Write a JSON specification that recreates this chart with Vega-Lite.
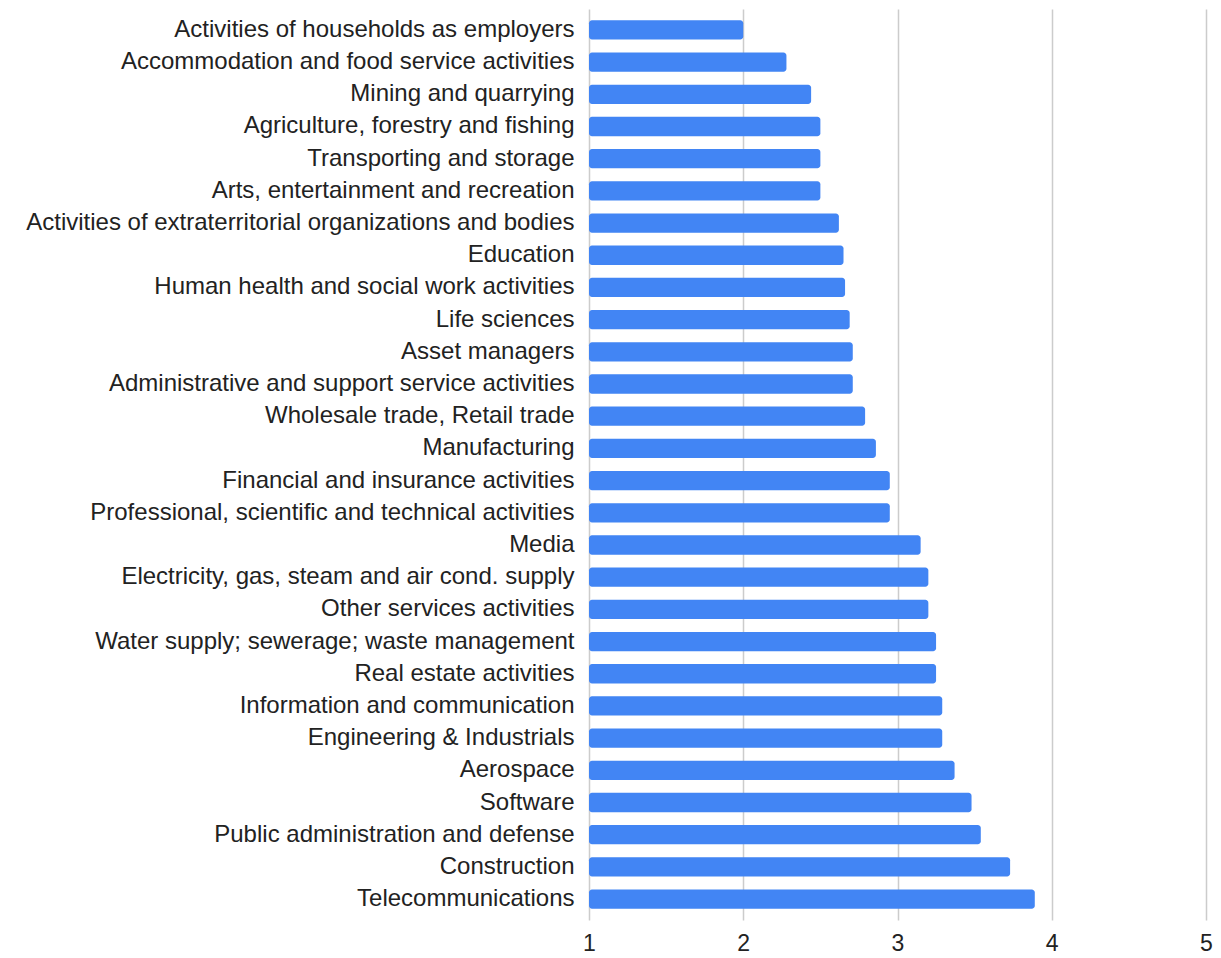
{
  "$schema": "https://vega.github.io/schema/vega-lite/v6.json",
  "width": 617,
  "height": 911,
  "autosize": {"type": "none"},
  "padding": {"left": 589, "top": 9, "right": 15, "bottom": 38},
  "background": "white",
  "config": {"view": {"stroke": null}, "font": "Liberation Sans"},
  "data": {"values": [
    {"sector": "Activities of households as employers", "value": 2.0},
    {"sector": "Accommodation and food service activities", "value": 2.28},
    {"sector": "Mining and quarrying", "value": 2.44},
    {"sector": "Agriculture, forestry and fishing", "value": 2.5},
    {"sector": "Transporting and storage", "value": 2.5},
    {"sector": "Arts, entertainment and recreation", "value": 2.5},
    {"sector": "Activities of extraterritorial organizations and bodies", "value": 2.62},
    {"sector": "Education", "value": 2.65},
    {"sector": "Human health and social work activities", "value": 2.66},
    {"sector": "Life sciences", "value": 2.69},
    {"sector": "Asset managers", "value": 2.71},
    {"sector": "Administrative and support service activities", "value": 2.71},
    {"sector": "Wholesale trade, Retail trade", "value": 2.79},
    {"sector": "Manufacturing", "value": 2.86},
    {"sector": "Financial and insurance activities", "value": 2.95},
    {"sector": "Professional, scientific and technical activities", "value": 2.95},
    {"sector": "Media", "value": 3.15},
    {"sector": "Electricity, gas, steam and air cond. supply", "value": 3.2},
    {"sector": "Other services activities", "value": 3.2},
    {"sector": "Water supply; sewerage; waste management", "value": 3.25},
    {"sector": "Real estate activities", "value": 3.25},
    {"sector": "Information and communication", "value": 3.29},
    {"sector": "Engineering & Industrials", "value": 3.29},
    {"sector": "Aerospace", "value": 3.37},
    {"sector": "Software", "value": 3.48},
    {"sector": "Public administration and defense", "value": 3.54},
    {"sector": "Construction", "value": 3.73},
    {"sector": "Telecommunications", "value": 3.89}
  ]},
  "mark": {"type": "bar", "color": "#4285F4", "cornerRadius": 3},
  "encoding": {
    "y": {
      "field": "sector", "type": "nominal", "sort": null,
      "scale": {"paddingInner": 0.4, "paddingOuter": 0.35},
      "axis": {"title": null, "domain": false, "ticks": false, "labelPadding": 15, "labelFontSize": 24, "labelColor": "#222222", "labelFont": "Liberation Sans", "labelLimit": 700}
    },
    "x": {
      "field": "value", "type": "quantitative",
      "scale": {"domain": [1, 5], "zero": false, "nice": false},
      "axis": {"title": null, "values": [1, 2, 3, 4, 5], "domain": false, "ticks": false, "grid": true, "gridColor": "#cccccc", "gridWidth": 1.5, "labelPadding": 12, "labelFontSize": 23, "labelColor": "#222222", "labelFont": "Liberation Sans", "labelFlush": false}
    },
    "x2": {"datum": 1}
  }
}
